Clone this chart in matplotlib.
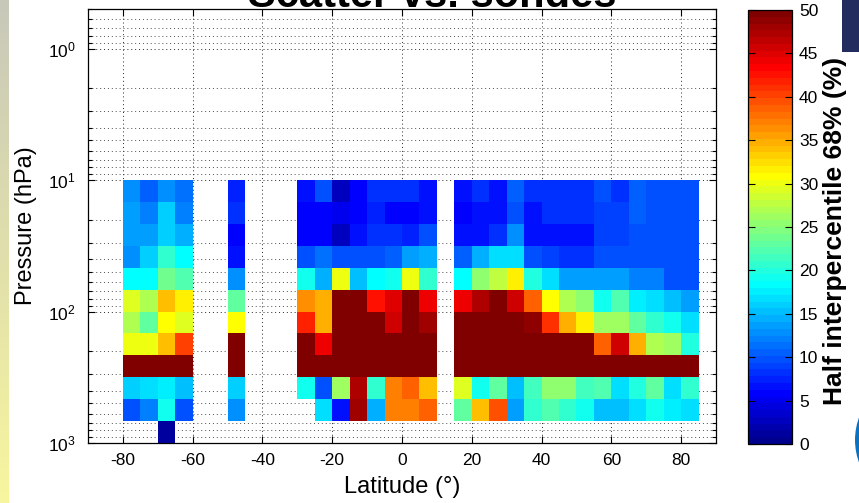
import numpy as np
import matplotlib
matplotlib.use("Agg")
import matplotlib.pyplot as plt
from matplotlib.colors import ListedColormap, Normalize
from matplotlib.ticker import LogLocator, NullFormatter, LogFormatterSciNotation
from matplotlib.patches import Rectangle, Circle

plt.rcParams['font.family'] = ['Liberation Sans', 'DejaVu Sans']
plt.rcParams['mathtext.fontset'] = 'custom'
plt.rcParams['mathtext.rm'] = 'Liberation Sans'
plt.rcParams['mathtext.it'] = 'Liberation Sans:italic'
plt.rcParams['mathtext.bf'] = 'Liberation Sans:bold'
plt.rcParams['axes.unicode_minus'] = False

nan = np.nan

# Pressure bin edges (hPa): six log-spaced bins per decade, 10 -> 1000 hPa
pressure_edges = 10 ** np.linspace(1, 3, 13)

# Latitude bands (5 deg bins). Each row is one pressure bin, top (10 hPa) first.
lat_edges_south_polar = np.arange(-80, -55, 5)
spread_south_polar = [
    [12.6, 10.9, 12.6, 11.5],
    [13.6, 12.0, 16.0, 12.0],
    [13.6, 13.6, 16.0, 14.6],
    [13.0, 16.0, 21.0, 18.0],
    [18.0, 18.0, 24.0, 22.0],
    [29.5, 27.0, 34.0, 32.0],
    [27.0, 23.0, 30.5, 29.0],
    [30.0, 30.0, 34.0, 40.0],
    [50.0, 50.0, 50.0, 50.0],
    [16.0, 17.0, 17.5, 15.5],
    [9.5, 12.0, 19.5, 10.0],
    [nan, nan, 1.5, nan],
]

lat_edges_south_mid = np.array([-50, -45])
spread_south_mid = [
    [7.5], [8.0], [5.5], [7.0], [13.0], [23.0],
    [30.5], [50.0], [50.0], [16.0], [12.5], [nan],
]

lat_edges_tropics = np.arange(-30, 15, 5)
spread_tropics = [
    [6.5, 9.5, 3.0, 5.5, 8.0, 8.0, 8.0, 6.3],
    [5.5, 5.8, 5.0, 5.8, 7.5, 5.5, 5.8, 7.0],
    [5.8, 5.8, 2.5, 6.5, 8.0, 8.0, 7.5, 9.5],
    [10.0, 11.0, 10.0, 10.0, 10.0, 10.5, 14.0, 14.5],
    [18.8, 14.5, 30.0, 15.0, 18.0, 19.5, 30.0, 20.5],
    [36.0, 35.0, 50.0, 50.0, 42.5, 45.0, 50.0, 44.0],
    [42.0, 35.0, 50.0, 50.0, 50.0, 45.5, 50.0, 48.0],
    [50.0, 44.0, 50.0, 50.0, 50.0, 50.0, 50.0, 50.0],
    [50.0, 50.0, 50.0, 50.0, 50.0, 50.0, 50.0, 50.0],
    [18.8, 9.5, 26.0, 47.5, 20.5, 37.0, 39.0, 34.0],
    [nan, 17.0, 7.0, 48.0, 14.5, 37.0, 37.0, 39.0],
    [nan, nan, nan, nan, nan, nan, nan, nan],
]

lat_edges_north = np.arange(15, 90, 5)
spread_north = [
    [7.0, 8.0, 7.0, 10.5, 8.0, 8.5, 8.5, 8.0, 9.5, 8.0, 10.5, 9.5, 9.5, 10.0],
    [5.5, 7.0, 7.0, 9.5, 6.3, 8.0, 8.0, 8.0, 9.0, 9.0, 10.5, 9.5, 9.5, 10.0],
    [6.5, 6.3, 8.0, 12.5, 7.0, 7.0, 7.0, 6.5, 9.0, 9.0, 9.5, 9.5, 9.5, 10.0],
    [10.5, 14.5, 16.5, 16.5, 9.5, 9.0, 8.0, 8.0, 9.5, 9.5, 10.0, 10.0, 10.0, 10.0],
    [18.0, 25.0, 28.0, 32.0, 20.0, 16.5, 14.0, 14.0, 13.5, 14.0, 12.0, 12.0, 10.0, 10.0],
    [44.0, 47.5, 49.5, 45.5, 39.0, 31.0, 27.0, 25.5, 19.5, 22.5, 17.5, 16.5, 15.0, 13.5],
    [50.0, 50.0, 50.0, 50.0, 49.0, 41.0, 34.5, 32.0, 26.0, 26.0, 23.0, 20.5, 18.8, 16.5],
    [50.0, 50.0, 50.0, 50.0, 50.0, 50.0, 50.0, 50.0, 39.0, 45.5, 35.0, 27.0, 26.0, 20.0],
    [50.0] * 14,
    [29.0, 18.8, 23.0, 15.0, 21.5, 25.5, 25.0, 21.5, 22.0, 17.0, 20.0, 23.0, 16.5, 20.5],
    [23.0, 34.0, 39.5, 13.5, 20.5, 22.5, 21.0, 18.8, 15.5, 15.0, 17.0, 18.8, 17.5, 16.5],
    [nan] * 14,
]

bands = [
    (lat_edges_south_polar, spread_south_polar),
    (lat_edges_south_mid, spread_south_mid),
    (lat_edges_tropics, spread_tropics),
    (lat_edges_north, spread_north),
]

colorbar_ticks = np.arange(0, 55, 5)
lat_ticks = np.arange(-80, 81, 20)


def matlab_jet(m=64):
    """Classic 64-entry jet colour table."""
    n = int(np.ceil(m / 4))
    u = np.concatenate([np.arange(1, n + 1) / n, np.ones(n - 1), np.arange(n, 0, -1) / n])
    g = int(np.ceil(n / 2)) - (1 if m % 4 == 1 else 0) + np.arange(1, len(u) + 1)
    r = g + n
    b = g - n
    g = g[g <= m]
    r = r[r <= m]
    b = b[b >= 1]
    J = np.zeros((m, 3))
    J[r - 1, 0] = u[:len(r)]
    J[g - 1, 1] = u[:len(g)]
    J[b - 1, 2] = u[len(u) - len(b):]
    return ListedColormap(J)


cmap = matlab_jet(64)
norm = Normalize(vmin=0, vmax=50)

W, H = 859, 503
fig = plt.figure(figsize=(W / 100, H / 100), dpi=100)
fig.patch.set_facecolor('white')

# slide margin strip on the left
strip = fig.add_axes([0, 0, 9 / W, 1])
grad = np.linspace(0, 1, 256)[:, None]
top_c = np.array([200, 200, 186]) / 255
bot_c = np.array([248, 246, 158]) / 255
strip_img = (top_c[None, None, :] * (1 - grad[..., None]) + bot_c[None, None, :] * grad[..., None])
strip.imshow(strip_img, aspect='auto', extent=[0, 1, 0, 1])
strip.set_axis_off()

ax = fig.add_axes([88 / W, 1 - 443 / H, (716 - 88) / W, (443 - 9) / H])
ax.set_yscale('log')

ax.set_axisbelow(True)
dot = (0, (1, 3.0))
ax.grid(True, which='major', color='0.15', linestyle=dot, linewidth=0.7)
ax.grid(True, which='minor', axis='y', color='0.3', linestyle=dot, linewidth=0.7)

mesh = None
for lat_edges, spread in bands:
    C = np.ma.masked_invalid(np.array(spread, dtype=float))
    mesh = ax.pcolormesh(lat_edges, pressure_edges, C, cmap=cmap, norm=norm,
                         shading='flat', edgecolors='none', antialiased=False)

ax.set_xlim(-90, 90)
ax.set_ylim(1000, 0.5)
ax.set_xticks(lat_ticks)
ax.set_xticklabels([f"{v:d}" for v in lat_ticks])
ax.yaxis.set_major_locator(LogLocator(base=10, numticks=10))
ax.yaxis.set_minor_locator(LogLocator(base=10, subs=np.arange(2, 10), numticks=20))
ax.yaxis.set_major_formatter(LogFormatterSciNotation())
ax.yaxis.set_minor_formatter(NullFormatter())

ax.tick_params(which='both', direction='in', top=True, right=True, width=0.8, colors='k')
ax.tick_params(which='major', length=5, labelsize=12.5)
ax.tick_params(which='minor', length=3)
ax.tick_params(axis='x', pad=7)
ax.tick_params(axis='y', pad=9)
for s in ax.spines.values():
    s.set_linewidth(0.9)

ax.set_xlabel('Latitude (°)', fontsize=17, labelpad=6)
ax.set_ylabel('Pressure (hPa)', fontsize=17, labelpad=8)

fig.text(432 / W, 1 - 7 / H, 'Scatter vs. sondes', ha='center', va='baseline',
         fontsize=30, fontweight='bold')

cax = fig.add_axes([748 / W, 1 - 444 / H, 44 / W, (444 - 10) / H])
cb = fig.colorbar(mesh, cax=cax, ticks=colorbar_ticks)
cb.outline.set_linewidth(0.9)
cax.tick_params(direction='in', left=True, right=True, length=5, width=0.8, labelsize=12.5, pad=5)
cax.yaxis.set_label_position('right')
cb.set_label('Half interpercentile 68% (%)', fontsize=19, fontweight='bold', labelpad=3)
cax.yaxis.label.set_y(0.49)

# slide decorations at the right edge
fig.patches.append(Rectangle((842 / W, 1 - 52 / H), 20 / W, 53 / H, transform=fig.transFigure,
                             facecolor='#232c5e', edgecolor='none', zorder=10))
fig.patches.append(Circle((9.20, (H - 440) / 100), 0.65, transform=fig.dpi_scale_trans,
                          facecolor='#0a72c0', edgecolor='none', zorder=10))

fig.savefig('out.png', dpi=100)
